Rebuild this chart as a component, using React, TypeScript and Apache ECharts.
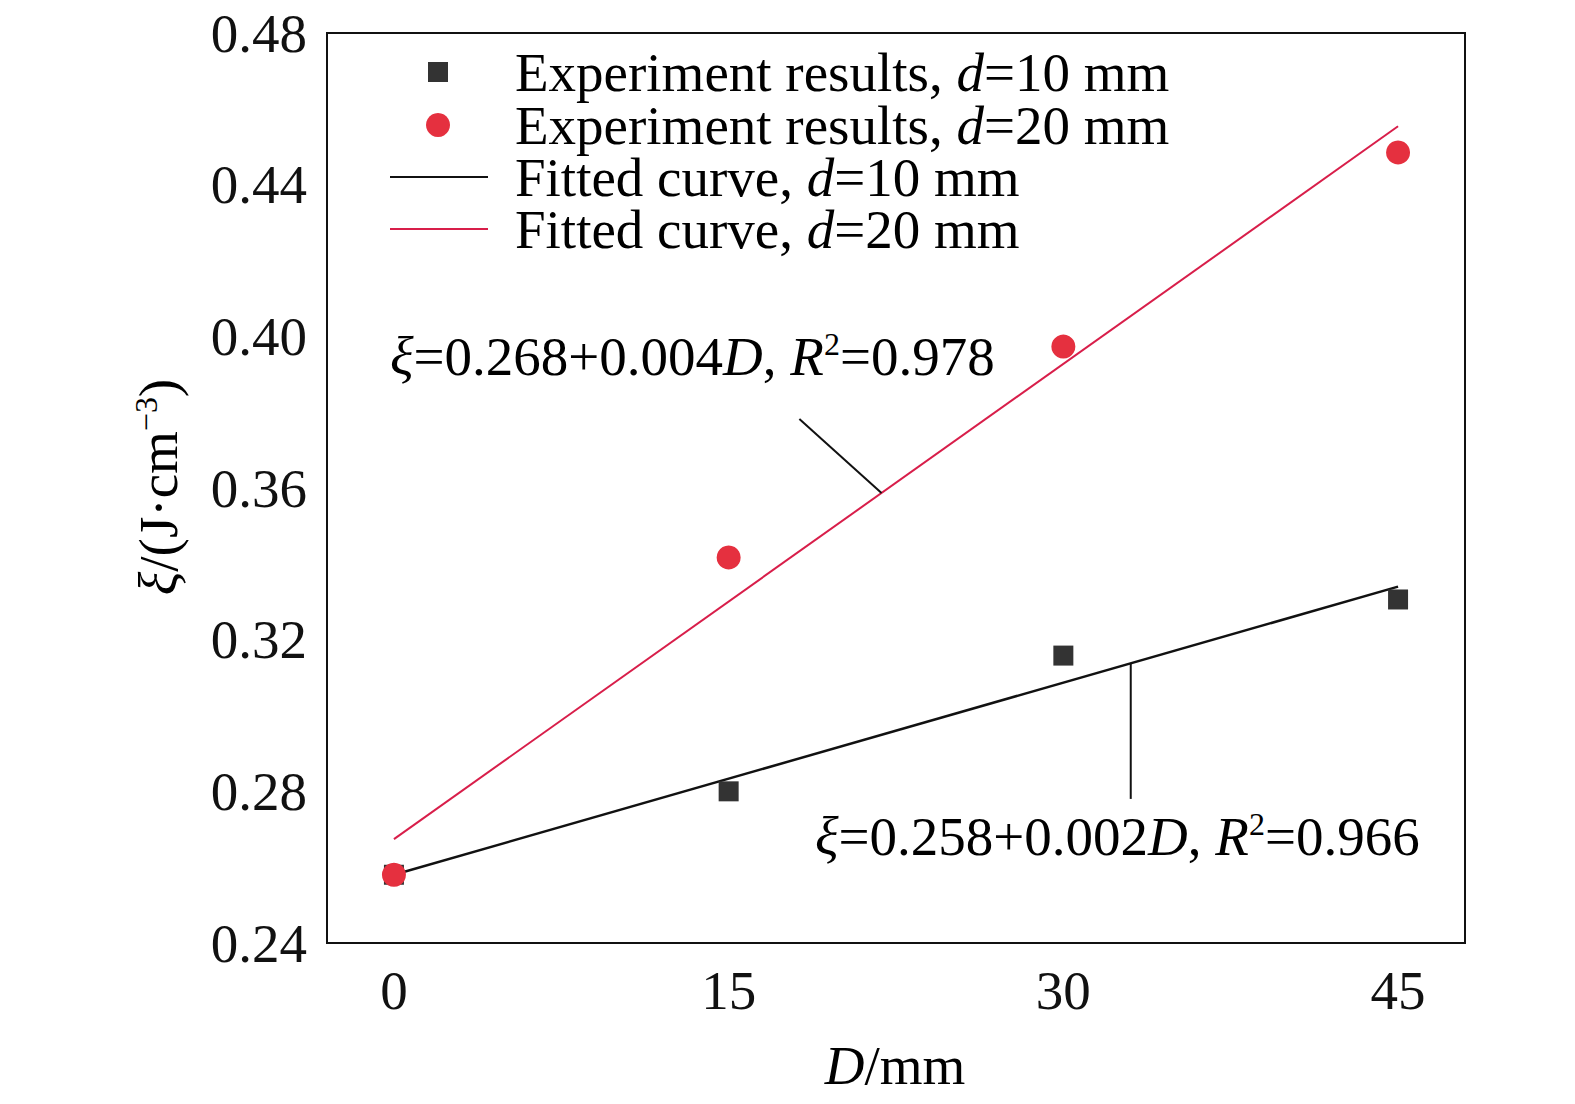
import React, { useEffect, useRef } from "react";
import * as echarts from "echarts";

const xVals = [0, 15, 30, 45];
const exp10 = [0.258, 0.28, 0.3158, 0.3306];
const exp20 = [0.258, 0.3417, 0.3973, 0.4485];
const fit10 = [[0, 0.258], [45, 0.334]];
const fit20 = [[0, 0.2674], [45, 0.4554]];
const lead20 = [[18.17, 0.3782], [21.85, 0.3587]];
const lead10 = [[33.02, 0.3137], [33.02, 0.278]];
const xTicks = [0, 15, 30, 45];
const FONT = "Liberation Serif";
const FS = 55;

export default function App() {
  const ref = useRef<HTMLDivElement>(null);
  useEffect(() => {
    document.body.style.margin = "0";
    const chart = echarts.init(ref.current!, null, { renderer: "svg" });
    const rich = {
      n: { fontFamily: FONT, fontSize: FS, color: "#111" },
      i: { fontFamily: FONT, fontSize: FS, fontStyle: "italic", color: "#111" },
      s: { fontFamily: FONT, fontSize: 32, color: "#111", verticalAlign: "top", padding: [0, 0, 24, 0] },
    };
    const legendRows = [
      { y: 72, kind: "sq", label: "{n|Experiment results, }{i|d}{n|=10 mm}" },
      { y: 125, kind: "ci", label: "{n|Experiment results, }{i|d}{n|=20 mm}" },
      { y: 177, kind: "l1", label: "{n|Fitted curve, }{i|d}{n|=10 mm}" },
      { y: 229, kind: "l2", label: "{n|Fitted curve, }{i|d}{n|=20 mm}" },
    ];
    const graphics: any[] = [];
    legendRows.forEach((r) => {
      if (r.kind === "sq") graphics.push({ type: "rect", shape: { x: 428, y: r.y - 10, width: 20, height: 20 }, style: { fill: "#333" } });
      if (r.kind === "ci") graphics.push({ type: "circle", shape: { cx: 438, cy: r.y, r: 12 }, style: { fill: "#e5303f" } });
      if (r.kind === "l1") graphics.push({ type: "line", shape: { x1: 390, y1: r.y, x2: 488, y2: r.y }, style: { stroke: "#111", lineWidth: 2 } });
      if (r.kind === "l2") graphics.push({ type: "line", shape: { x1: 390, y1: r.y, x2: 488, y2: r.y }, style: { stroke: "#d81e4a", lineWidth: 2 } });
      graphics.push({ type: "text", x: 515, y: r.y, style: { text: r.label, rich, verticalAlign: "middle" } });
    });
    graphics.push({ type: "text", x: 390, y: 356, style: { text: "{i|ξ}{n|=0.268+0.004}{i|D}{n|, }{i|R}{s|2}{n|=0.978}", rich, verticalAlign: "middle" } });
    graphics.push({ type: "text", x: 815, y: 836, style: { text: "{i|ξ}{n|=0.258+0.002}{i|D}{n|, }{i|R}{s|2}{n|=0.966}", rich, verticalAlign: "middle" } });
    graphics.push({ type: "text", x: 895, y: 1065, style: { text: "{i|D}{n|/mm}", rich, align: "center", verticalAlign: "middle" } });
    graphics.push({ type: "text", x: 158, y: 487, rotation: Math.PI / 2, style: { text: "{i|ξ}{n|/(J·cm}{s|−3}{n|)}", rich, align: "center", verticalAlign: "middle" } });

    chart.setOption({
      animation: false,
      grid: { left: 327, right: 110, top: 33, bottom: 161, show: true, borderColor: "#111", borderWidth: 2 },
      xAxis: {
        type: "value", min: -3, max: 48, interval: 3,
        axisLine: { onZero: false, lineStyle: { color: "#111", width: 2 } },
        axisTick: { show: false }, splitLine: { show: false },
        axisLabel: { fontFamily: FONT, fontSize: FS, color: "#111", margin: 20,
          formatter: (v: number) => (xTicks.includes(Math.round(v)) ? String(Math.round(v)) : "") },
      },
      yAxis: {
        type: "value", min: 0.24, max: 0.48, interval: 0.04,
        axisLine: { show: true, onZero: false, lineStyle: { color: "#111", width: 2 } },
        axisTick: { show: false }, splitLine: { show: false },
        axisLabel: { fontFamily: FONT, fontSize: FS, color: "#111", margin: 20, formatter: (v: number) => v.toFixed(2) },
      },
      series: [
        { type: "line", data: fit10, symbol: "none", lineStyle: { color: "#111", width: 2.5 }, z: 2 },
        { type: "line", data: fit20, symbol: "none", lineStyle: { color: "#d81e4a", width: 2 }, z: 2 },
        { type: "line", data: lead20, symbol: "none", lineStyle: { color: "#111", width: 2 } },
        { type: "line", data: lead10, symbol: "none", lineStyle: { color: "#111", width: 2 } },
        { type: "scatter", data: xVals.map((x, i) => [x, exp10[i]]), symbol: "rect", symbolSize: 20, itemStyle: { color: "#333", opacity: 1 }, z: 3 },
        { type: "scatter", data: xVals.map((x, i) => [x, exp20[i]]), symbol: "circle", symbolSize: 24, itemStyle: { color: "#e5303f", opacity: 1 }, z: 4 },
      ],
      graphic: graphics,
    });
    return () => chart.dispose();
  }, []);
  return <div ref={ref} style={{ width: 1575, height: 1104 }} />;
}
